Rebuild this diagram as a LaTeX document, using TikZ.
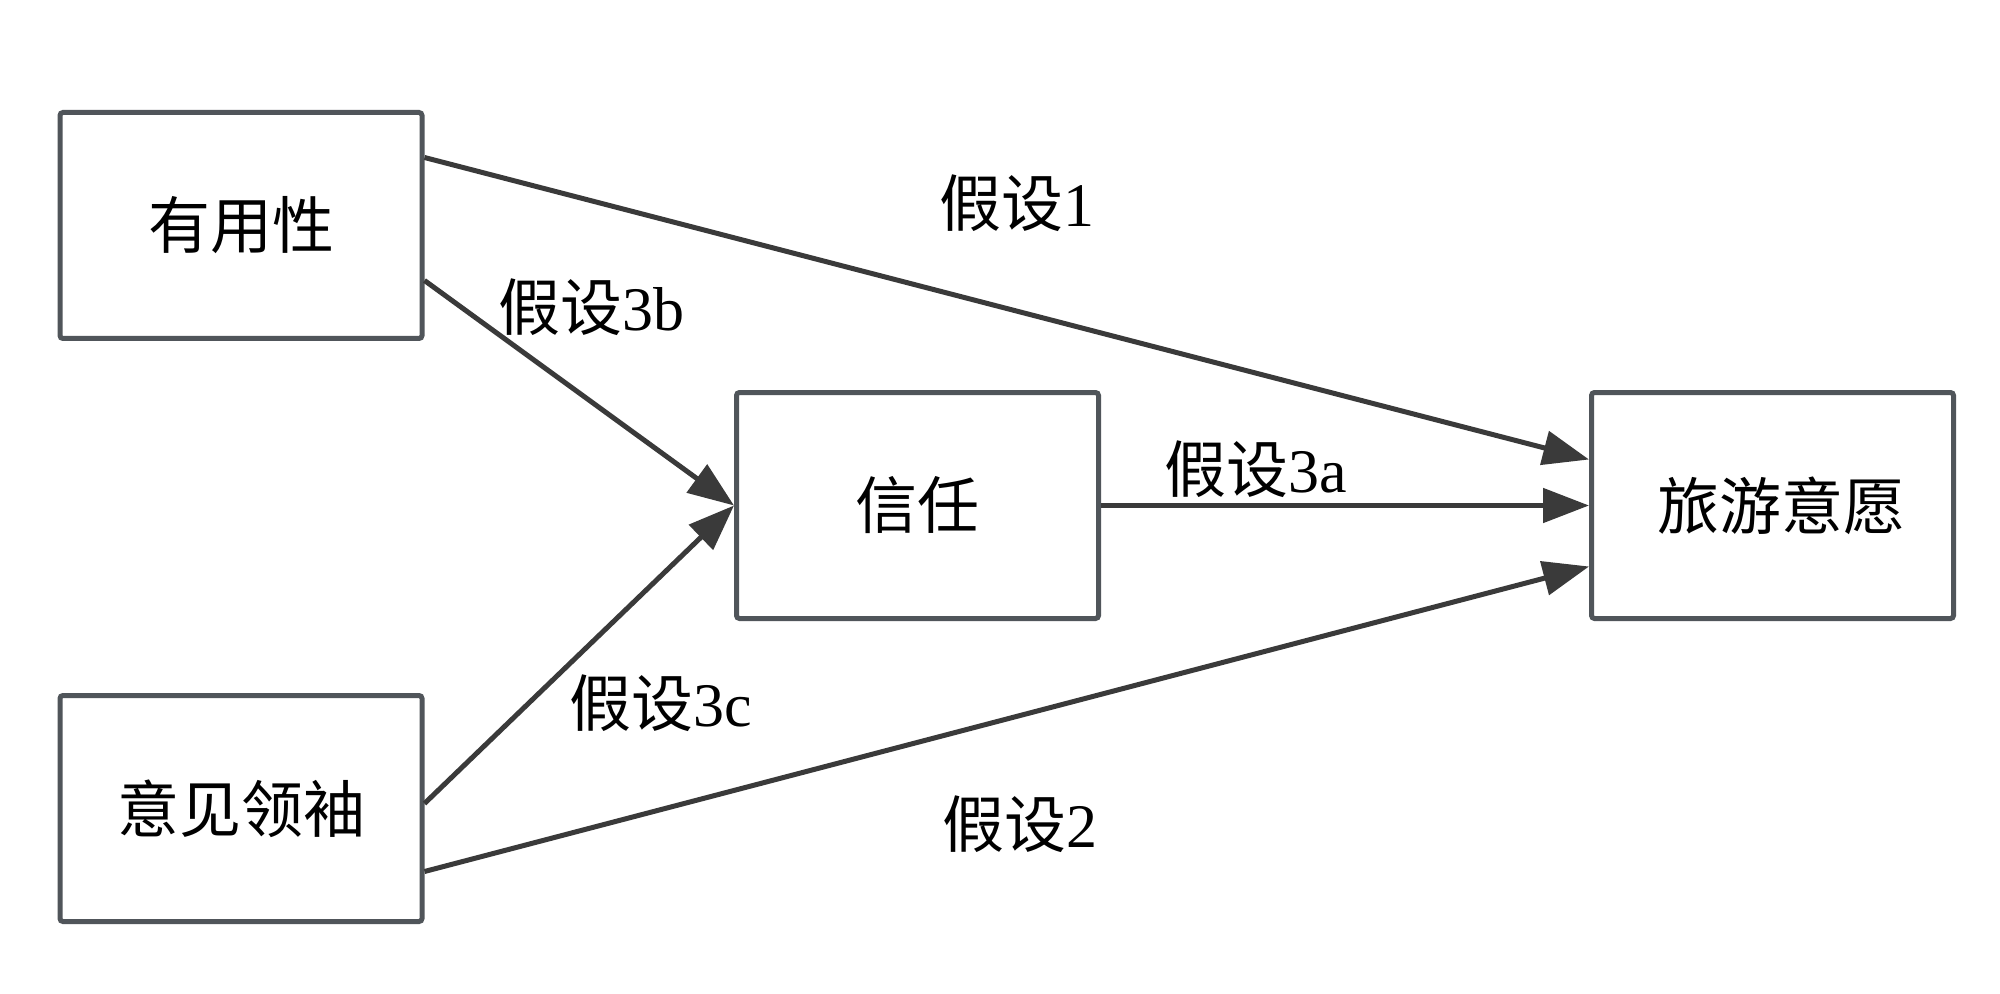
\documentclass[tikz,border=0pt]{standalone}
\usepackage{fontspec}
\setmainfont{Liberation Serif}
\newfontfamily\cjk{Noto Sans CJK SC}
\usetikzlibrary{arrows.meta,calc}
\definecolor{boxline}{HTML}{50555A}
\definecolor{arrline}{HTML}{3A3A3A}
\tikzset{
  box/.style={draw=boxline, line width=2.5pt, rounded corners=1.5pt, fill=white,
    minimum width=181pt, minimum height=113pt, inner sep=0pt,
    font=\cjk\fontsize{31pt}{36pt}\selectfont},
  conn/.style={draw=arrline, line width=2.5pt, -{Triangle[length=23pt,width=17pt]}},
  lab/.style={font=\fontsize{31pt}{36pt}\selectfont, inner sep=0pt}
}
\begin{document}
\begin{tikzpicture}[x=0.5pt,y=-0.5pt]
\fill[white] (0,0) rectangle (2000,994);
\useasboundingbox (0,0) rectangle (2000,994);
\node[box] (A) at (241,225.5) {有用性};
\node[box] (B) at (241,808.5) {意见领袖};
\node[box] (C) at (917.5,505.5) {信任};
\node[box] (D) at (1772.5,505.5) {\hspace*{9pt}旅游意愿};
\draw[conn] ($(A.east)+(0,-68)$) -- ($(D.west)+(0,-46)$);
\draw[conn] ($(A.east)+(0,55)$) -- (C.west);
\draw[conn] ($(B.east)+(0,-5)$) -- (C.west);
\draw[conn] (C.east) -- (D.west);
\draw[conn] ($(B.east)+(0,63)$) -- ($(D.west)+(0,61)$);
\node[lab] (L1) at (1017,203) {{\cjk 假设}1};
\node[lab] (L3b) at (591,307) {{\cjk 假设}3b};
\node[lab] (L3a) at (1256,469) {{\cjk 假设}3a};
\node[lab] (L3c) at (661,703) {{\cjk 假设}3c};
\node[lab] (L2) at (1020,824) {{\cjk 假设}2};
\end{tikzpicture}
\end{document}
